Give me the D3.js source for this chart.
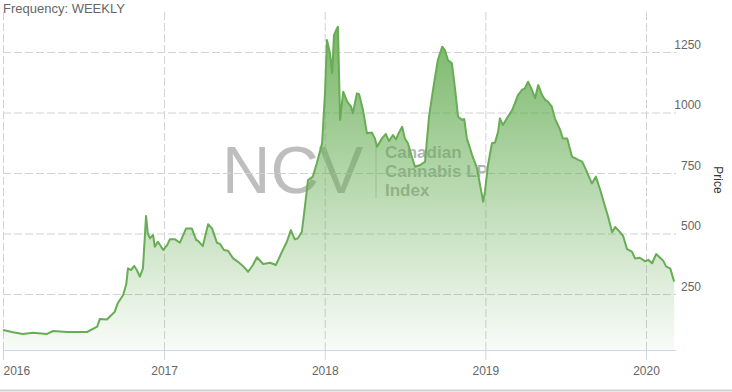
<!DOCTYPE html>
<html>
<head>
<meta charset="utf-8">
<script src="https://cdn.jsdelivr.net/npm/d3@7"></script>
<style>
  body { margin: 0; background: #fff; }
  svg { display: block; font-family: "Liberation Sans", Arial, sans-serif; }
</style>
</head>
<body>
<svg id="chart" width="732" height="392"></svg>
<script>
'use strict';

// weekly index values (approximate)
const dates = [
  '2016-01-01','2016-01-24','2016-02-15','2016-03-09','2016-04-10','2016-04-24','2016-05-25','2016-07-10',
  '2016-08-02','2016-08-08','2016-08-24','2016-09-11','2016-09-18','2016-09-30','2016-10-07','2016-10-11',
  '2016-10-18','2016-10-25','2016-10-31','2016-11-07','2016-11-14','2016-11-21','2016-11-25','2016-11-30',
  '2016-12-07','2016-12-11','2016-12-18','2016-12-30','2017-01-08','2017-01-14','2017-01-26','2017-02-06',
  '2017-02-20','2017-03-05','2017-03-15','2017-03-19','2017-03-30','2017-04-11','2017-04-20','2017-05-01',
  '2017-05-08','2017-05-17','2017-05-26','2017-06-07','2017-06-18','2017-06-29','2017-07-11','2017-07-22',
  '2017-07-31','2017-08-14','2017-08-30','2017-09-12','2017-09-26','2017-10-07','2017-10-16','2017-10-25',
  '2017-11-01','2017-11-10','2017-11-17','2017-11-24','2017-12-05','2017-12-14','2017-12-26','2018-01-02',
  '2018-01-06','2018-01-13','2018-01-18','2018-01-22','2018-01-29','2018-01-31','2018-02-05','2018-02-12',
  '2018-02-21','2018-03-02','2018-03-06','2018-03-15','2018-03-20','2018-03-29','2018-04-07','2018-04-18',
  '2018-04-25','2018-04-30','2018-05-11','2018-05-20','2018-05-27','2018-06-05','2018-06-12','2018-06-17',
  '2018-06-26','2018-07-02','2018-07-09','2018-07-18','2018-07-25','2018-08-06','2018-08-17','2018-08-26',
  '2018-09-04','2018-09-15','2018-09-25','2018-10-01','2018-10-08','2018-10-17','2018-10-24','2018-10-31',
  '2018-11-09','2018-11-14','2018-11-20','2018-12-02','2018-12-13','2018-12-20','2018-12-27','2018-12-31',
  '2019-01-07','2019-01-16','2019-01-23','2019-01-30','2019-02-03','2019-02-10','2019-02-19','2019-03-03',
  '2019-03-09','2019-03-16','2019-03-25','2019-04-01','2019-04-08','2019-04-17','2019-04-24','2019-05-01',
  '2019-05-10','2019-05-17','2019-05-23','2019-06-01','2019-06-08','2019-06-20','2019-06-26','2019-07-06',
  '2019-07-17','2019-07-24','2019-07-31','2019-08-09','2019-08-18','2019-08-31','2019-09-09','2019-09-19',
  '2019-09-30','2019-10-07','2019-10-16','2019-10-23','2019-11-01','2019-11-10','2019-11-19','2019-11-30',
  '2019-12-07','2019-12-18','2019-12-30','2020-01-06','2020-01-15','2020-01-24','2020-02-02','2020-02-09',
  '2020-02-16','2020-02-25','2020-03-05'
];
const prices = [
  101, 92, 85, 90, 85, 97, 93, 93,
  115, 147, 145, 177, 213, 246, 290, 356,
  349, 366, 349, 322, 356, 572, 501, 480,
  494, 445, 466, 432, 452, 476, 476, 462,
  521, 521, 473, 470, 448, 538, 521, 462,
  457, 432, 429, 397, 383, 366, 342, 370,
  402, 374, 379, 370, 425, 466, 514, 476,
  480, 507, 611, 721, 735, 790, 873, 1093,
  1300, 1245, 1162, 1320, 1348, 1354, 969, 1086,
  1045, 1024, 997, 1079, 1076, 1010, 914, 917,
  893, 859, 893, 911, 882, 907, 889, 911,
  941, 893, 873, 817, 776, 783, 797, 983,
  1093, 1217, 1272, 1258, 1217, 1203, 1100, 983,
  969, 973, 893, 824, 769, 700, 631, 673,
  783, 873, 876, 921, 976, 948, 976, 1010,
  1038, 1072, 1093, 1100, 1127, 1093, 1059, 1114,
  1072, 1052, 1045, 1024, 976, 928, 893, 893,
  817, 811, 804, 797, 762, 707, 735, 680,
  611, 569, 505, 527, 510, 490, 435, 425,
  397, 400, 385, 391, 377, 415, 400, 388,
  363, 356, 301
];
const yearTicks = ['2016-01-01', '2017-01-01', '2018-01-01', '2019-01-01', '2020-01-01'];
const priceTicks = [250, 500, 750, 1000, 1250];
const watermarkLines = ['Canadian', 'Cannabis LP', 'Index'];

const parse = d3.timeParse('%Y-%m-%d');
const data = dates.map((d, i) => ({ date: parse(d), value: prices[i] }));

const plotLeft = 3, plotRight = 676, plotTop = 12, plotBottom = 350;

const x = d3.scaleTime()
  .domain([parse('2016-01-01'), parse('2020-01-01')])
  .range([3, 646]);

const y = d3.scaleLinear()
  .domain([250, 1250])
  .range([294, 52]);

const svg = d3.select('#chart');

// gradient for the area
let defs = svg.append('defs');
let grad = defs.append('linearGradient')
  .attr('id', 'areaFill')
  .attr('gradientUnits', 'userSpaceOnUse')
  .attr('x1', 0).attr('y1', plotTop)
  .attr('x2', 0).attr('y2', plotBottom);
grad.append('stop').attr('offset', 0).attr('stop-color', '#62ab4f').attr('stop-opacity', 0.9);
grad.append('stop').attr('offset', 1).attr('stop-color', '#62ab4f').attr('stop-opacity', 0.04);

// title
svg.append('text')
  .attr('x', 3).attr('y', 13)
  .attr('font-size', 13)
  .attr('fill', '#666')
  .text('Frequency: WEEKLY');

// watermark
let wm = svg.append('g').attr('fill', 'rgba(110,110,110,0.45)');
wm.append('text')
  .attr('x', 222).attr('y', 193)
  .attr('font-size', 67)
  .text('NCV');
wm.append('line')
  .attr('x1', 376).attr('x2', 376)
  .attr('y1', 145).attr('y2', 198)
  .attr('stroke', 'rgba(110,110,110,0.35)');
let wmText = wm.append('text')
  .attr('x', 385).attr('y', 157.5)
  .attr('font-size', 17)
  .attr('font-weight', 'bold')
  .attr('fill', 'rgba(105,105,105,0.5)');
wmText.selectAll('tspan')
  .data(watermarkLines)
  .enter().append('tspan')
    .attr('x', 385)
    .attr('dy', (d, i) => i === 0 ? 0 : 19.3)
    .text(d => d);

// grid lines
svg.append('g')
  .attr('transform', `translate(0,${plotBottom})`)
  .call(d3.axisBottom(x).tickValues(yearTicks.map(parse)).tickSize(-(plotBottom - plotTop)).tickFormat(''))
  .call(g => g.select('.domain').remove())
  .call(g => g.selectAll('line').attr('stroke', '#d2d2d2').attr('stroke-dasharray', '8,3'));

svg.append('g')
  .attr('transform', `translate(${plotLeft},0)`)
  .call(d3.axisRight(y).tickValues(priceTicks).tickSize(plotRight - plotLeft).tickFormat(''))
  .call(g => g.select('.domain').remove())
  .call(g => g.selectAll('line').attr('stroke', '#d2d2d2').attr('stroke-dasharray', '8,3'));

// area + line
let area = d3.area()
  .x(d => x(d.date))
  .y0(plotBottom)
  .y1(d => y(d.value));

let line = d3.line()
  .x(d => x(d.date))
  .y(d => y(d.value));

svg.append('path')
  .datum(data)
  .attr('d', area)
  .attr('fill', 'url(#areaFill)');

svg.append('path')
  .datum(data)
  .attr('d', line)
  .attr('fill', 'none')
  .attr('stroke', '#68ad55')
  .attr('stroke-width', 2)
  .attr('stroke-linejoin', 'round');

// x axis
let xAxis = svg.append('g')
  .attr('transform', `translate(0,${plotBottom})`)
  .call(d3.axisBottom(x).tickValues(yearTicks.map(parse)).tickSize(10).tickFormat(d3.timeFormat('%Y')));
xAxis.select('.domain').attr('d', `M${plotLeft},0.5H${plotRight}`).attr('stroke', '#ccd6eb');
xAxis.selectAll('line').attr('stroke', '#ccd6eb');
xAxis.selectAll('text')
  .attr('y', 25).attr('dy', 0)
  .attr('font-size', 12)
  .attr('font-family', '"Liberation Sans", Arial, sans-serif')
  .attr('fill', '#666');
xAxis.select('.tick text').attr('text-anchor', 'start').attr('x', 0);

// y axis labels on the right
let yAxis = svg.append('g')
  .attr('transform', 'translate(701,0)')
  .call(d3.axisLeft(y).tickValues(priceTicks).tickSize(0).tickPadding(0).tickFormat(d3.format('d')));
yAxis.select('.domain').remove();
yAxis.selectAll('text')
  .attr('y', -4).attr('dy', 0)
  .attr('font-size', 12)
  .attr('font-family', '"Liberation Sans", Arial, sans-serif')
  .attr('fill', '#666');

// axis title
svg.append('text')
  .attr('transform', 'translate(714,180) rotate(90)')
  .attr('text-anchor', 'middle')
  .attr('font-size', 12)
  .attr('fill', '#333')
  .text('Price');

// bottom border
svg.append('line')
  .attr('x1', 0).attr('x2', 732)
  .attr('y1', 390.5).attr('y2', 390.5)
  .attr('stroke', '#d0d0d0')
  .attr('stroke-width', 2);
</script>
</body>
</html>
